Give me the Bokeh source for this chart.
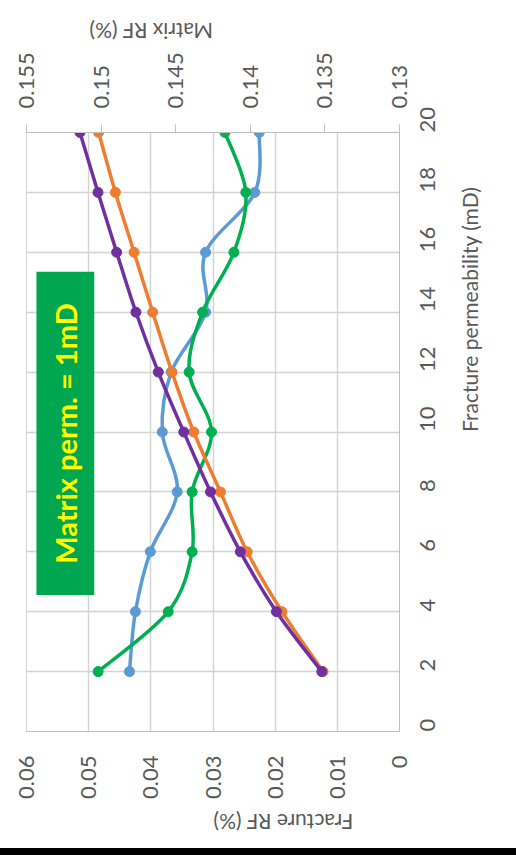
import math
from bokeh.plotting import figure
from bokeh.models import (Range1d, LinearAxis, FixedTicker, BoxAnnotation, Label,
                          ColumnDataSource, NumeralTickFormatter)
from bokeh.embed import file_html
from bokeh.resources import INLINE

# ---- data ----
perm = [2, 4, 6, 8, 10, 12, 14, 16, 18, 20]
fracture_rf_purple = [0.0125, 0.0198, 0.0256, 0.0304, 0.0347, 0.0388, 0.0424, 0.0455, 0.0485, 0.0514]
fracture_rf_orange = [0.0123, 0.0189, 0.0245, 0.0288, 0.0331, 0.0366, 0.0397, 0.0427, 0.0457, 0.0484]
matrix_rf_green = [0.1502, 0.1455, 0.1439, 0.1439, 0.1426, 0.1441, 0.1432, 0.1411, 0.1403, 0.1417]
matrix_rf_blue = [0.1481, 0.1477, 0.1467, 0.1449, 0.1459, 0.1453, 0.1430, 0.1430, 0.1397, 0.1394]

fracture_ticks = [0.0, 0.01, 0.02, 0.03, 0.04, 0.05, 0.06]
fracture_tick_labels = ["0", "0.01", "0.02", "0.03", "0.04", "0.05", "0.06"]
matrix_ticks = [0.13, 0.135, 0.14, 0.145, 0.15, 0.155]
matrix_tick_labels = ["0.13", "0.135", "0.14", "0.145", "0.15", "0.155"]
perm_ticks = [0, 2, 4, 6, 8, 10, 12, 14, 16, 18, 20]
perm_tick_labels = ["0", "2", "4", "6", "8", "10", "12", "14", "16", "18", "20"]

x_title = "Fracture permeability (mD)"
fracture_title = "Fracture RF (%)"
matrix_title = "Matrix RF (%)"
note_text = "Matrix perm. = 1mD"

FONT = "Lato"
TXT = "#595959"
GRID = "#D4D4D4"

p = figure(width=516, height=855, output_backend="svg", toolbar_location=None,
           x_range=Range1d(0.06, 0.0), y_range=Range1d(0, 20),
           x_axis_location="below", y_axis_location="right",
           min_border_left=26, min_border_right=117, min_border_top=132,
           min_border_bottom=124)
p.styles = {"border-bottom": "7px solid black"}
p.extra_x_ranges = {"matrix": Range1d(0.155, 0.13)}
p.outline_line_color = GRID
p.background_fill_color = "white"
p.border_fill_color = "white"


def style_axis(ax, ticks, labels):
    ax.ticker = FixedTicker(ticks=ticks)
    ax.major_label_overrides = dict(zip(ticks, labels))
    ax.major_label_text_font = FONT
    ax.major_label_text_font_size = "22px"
    ax.major_label_text_color = TXT
    ax.major_label_orientation = math.pi / 2
    ax.axis_label_text_font = FONT
    ax.axis_label_text_font_size = "21px"
    ax.axis_label_text_font_style = "normal"
    ax.axis_label_text_color = TXT
    ax.minor_tick_line_color = None
    ax.axis_line_color = "#BFBFBF"
    ax.major_tick_line_color = "#BFBFBF"
    ax.major_tick_in = 0


# bottom axis: fracture RF
bx = p.xaxis[0]
style_axis(bx, fracture_ticks, fracture_tick_labels)
bx.formatter = NumeralTickFormatter(format="0.[00]")
bx.major_tick_out = 0
bx.major_label_standoff = 24
bx.axis_label = fracture_title
bx.axis_label_standoff = 21
bx.axis_label_orientation = math.pi

# top axis: matrix RF
tx = LinearAxis(x_range_name="matrix")
style_axis(tx, matrix_ticks, matrix_tick_labels)
tx.formatter = NumeralTickFormatter(format="0.[000]")
tx.major_tick_out = 8
tx.major_label_standoff = 16
tx.axis_label = matrix_title
tx.axis_label_standoff = 18
tx.axis_label_orientation = math.pi
p.add_layout(tx, "above")

# right axis: fracture permeability
ry = p.yaxis[0]
style_axis(ry, perm_ticks, perm_tick_labels)
ry.major_tick_out = 0
ry.major_label_standoff = 28
ry.axis_label = x_title
ry.axis_label_standoff = 24
ry.axis_label_orientation = math.pi / 2

p.xgrid.ticker = FixedTicker(ticks=fracture_ticks)
p.ygrid.ticker = FixedTicker(ticks=perm_ticks)
p.xgrid.grid_line_color = GRID
p.ygrid.grid_line_color = GRID
p.xgrid.grid_line_width = 1.5
p.ygrid.grid_line_width = 1.5


def smooth(xs, ys):
    n = len(xs)
    d = dict(x0=[], y0=[], x1=[], y1=[], cx0=[], cy0=[], cx1=[], cy1=[])
    for i in range(n - 1):
        a = max(i - 1, 0)
        b = min(i + 2, n - 1)
        d["x0"].append(xs[i]); d["y0"].append(ys[i])
        d["x1"].append(xs[i + 1]); d["y1"].append(ys[i + 1])
        d["cx0"].append(xs[i] + (xs[i + 1] - xs[a]) / 6.0)
        d["cy0"].append(ys[i] + (ys[i + 1] - ys[a]) / 6.0)
        d["cx1"].append(xs[i + 1] - (xs[b] - xs[i]) / 6.0)
        d["cy1"].append(ys[i + 1] - (ys[b] - ys[i]) / 6.0)
    return ColumnDataSource(d)


series = [
    (matrix_rf_blue, "#5B9BD5", "matrix"),
    (matrix_rf_green, "#00B050", "matrix"),
    (fracture_rf_orange, "#ED7D31", "default"),
    (fracture_rf_purple, "#7030A0", "default"),
]
for vals, col, rng in series:
    src = smooth(vals, perm)
    p.bezier(x0="x0", y0="y0", x1="x1", y1="y1", cx0="cx0", cy0="cy0",
             cx1="cx1", cy1="cy1", source=src, line_color=col, line_width=3.5,
             line_cap="round", x_range_name=rng)
    p.scatter(x=vals, y=perm, size=10, marker="circle", fill_color=col,
              line_color=col, x_range_name=rng)

# annotation box
box = BoxAnnotation(left=0.0584, right=0.0491, top=15.35, bottom=4.56,
                    fill_color="#00A650", fill_alpha=1.0, line_color=None)
p.add_layout(box)
p.add_layout(Label(x=0.05375, y=9.95, text=note_text, angle=math.pi / 2,
                   text_align="center", text_baseline="middle",
                   text_font=FONT, text_font_size="29px", text_font_style="bold",
                   text_color="#FFFF00"))

open("out.html", "w").write(file_html(p, INLINE))
